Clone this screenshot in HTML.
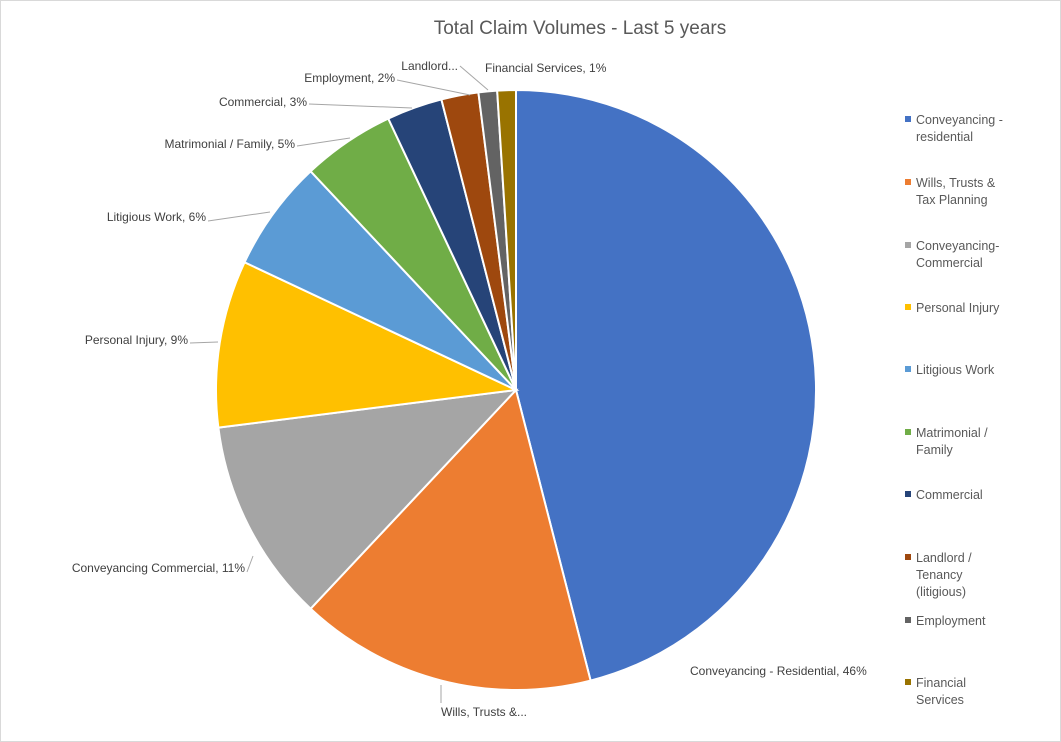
<!DOCTYPE html>
<html><head><meta charset="utf-8"><style>
body{margin:0;background:#fff;}
svg{display:block;font-family:"Liberation Sans",sans-serif;}
</style></head><body>
<svg id="chart" width="1061" height="742" viewBox="0 0 1061 742">
<rect x="0.5" y="0.5" width="1060" height="741" fill="#fff" stroke="#d9d9d9"/>
<text x="580" y="34" text-anchor="middle" font-size="19" fill="#595959">Total Claim Volumes  - Last 5 years</text>
<g id="slices"></g><g id="labels"></g><g id="legend"></g>
</svg>
<script>
const categories=["Conveyancing - residential","Wills, Trusts & Tax Planning","Conveyancing- Commercial","Personal Injury","Litigious Work","Matrimonial / Family","Commercial","Landlord / Tenancy (litigious)","Employment","Financial Services"];
const values=[46,16,11,9,6,5,3,2,1,1];
const colors=["#4472c4","#ed7d31","#a5a5a5","#ffc000","#5b9bd5","#70ad47","#264478","#9e480e","#636363","#997300"];
const sliceLabels=["Conveyancing - Residential, 46%","Wills, Trusts &...","Conveyancing Commercial, 11%","Personal Injury, 9%","Litigious Work, 6%","Matrimonial / Family, 5%","Commercial, 3%","Landlord...","Employment, 2%","Financial Services, 1%"];
const legendLines=[["Conveyancing -","residential"],["Wills, Trusts &","Tax Planning"],["Conveyancing-","Commercial"],["Personal Injury"],["Litigious Work"],["Matrimonial /","Family"],["Commercial"],["Landlord /","Tenancy","(litigious)"],["Employment"],["Financial","Services"]];
const NS="http://www.w3.org/2000/svg";
const cx=516,cy=390,r=300;
const total=values.reduce((a,b)=>a+b,0);
function pt(a,rr){return [cx+rr*Math.sin(a),cy-rr*Math.cos(a)];}
const sg=document.getElementById('slices');
let acc=0;
values.forEach((v,i)=>{
  const a0=acc/total*2*Math.PI;acc+=v;const a1=acc/total*2*Math.PI;
  const p0=pt(a0,r),p1=pt(a1,r);
  const p=document.createElementNS(NS,'path');
  p.setAttribute('d',`M${cx},${cy}L${p0[0]},${p0[1]}A${r},${r} 0 ${a1-a0>Math.PI?1:0} 1 ${p1[0]},${p1[1]}Z`);
  p.setAttribute('fill',colors[i]);p.setAttribute('stroke','#fff');p.setAttribute('stroke-width','2');
  
  
  sg.appendChild(p);
});
// label layout (positions only)
const lpos=[[690,675,'start',null],[441,716,'start',[[441,703],[441,685]]],[245,572,'end',[[247,572],[253,556]]],[188,344,'end',[[190,343],[218,342]]],[206,221,'end',[[208,221],[270,212]]],[295,148,'end',[[297,146],[350,138]]],[307,106,'end',[[309,104],[412,108]]],[458,70,'end',[[460,66],[488,90]]],[395,82,'end',[[397,80],[470,95]]],[485,72,'start',null]];
const lg=document.getElementById('labels');
lpos.forEach((l,i)=>{
  if(l[3]){const pl=document.createElementNS(NS,'polyline');
    pl.setAttribute('points',l[3].map(q=>q.join(',')).join(' '));
    pl.setAttribute('fill','none');pl.setAttribute('stroke','#a6a6a6');
    
    
    lg.appendChild(pl);}
  const t=document.createElementNS(NS,'text');
  t.setAttribute('x',l[0]);t.setAttribute('y',l[1]);t.setAttribute('text-anchor',l[2]);
  t.setAttribute('font-size','12');t.setAttribute('fill','#404040');
  t.textContent=sliceLabels[i];
  
  
  lg.appendChild(t);
});
const legY=[124,187,250,312,374,437,499,562,625,687];
const gg=document.getElementById('legend');
legendLines.forEach((ls,i)=>{
  const g=document.createElementNS(NS,'g');
  
  
  const m=document.createElementNS(NS,'rect');
  m.setAttribute('x',905);m.setAttribute('y',legY[i]-8);m.setAttribute('width',6);m.setAttribute('height',6);
  m.setAttribute('fill',colors[i]);
  
  
  g.appendChild(m);
  ls.forEach((s,j)=>{const t=document.createElementNS(NS,'text');
    t.setAttribute('x',916);t.setAttribute('y',legY[i]+j*17);t.setAttribute('font-size','12.5');t.setAttribute('fill','#595959');
    t.textContent=s;
    
    
    g.appendChild(t);});
  gg.appendChild(g);
});
</script>
</body></html>
